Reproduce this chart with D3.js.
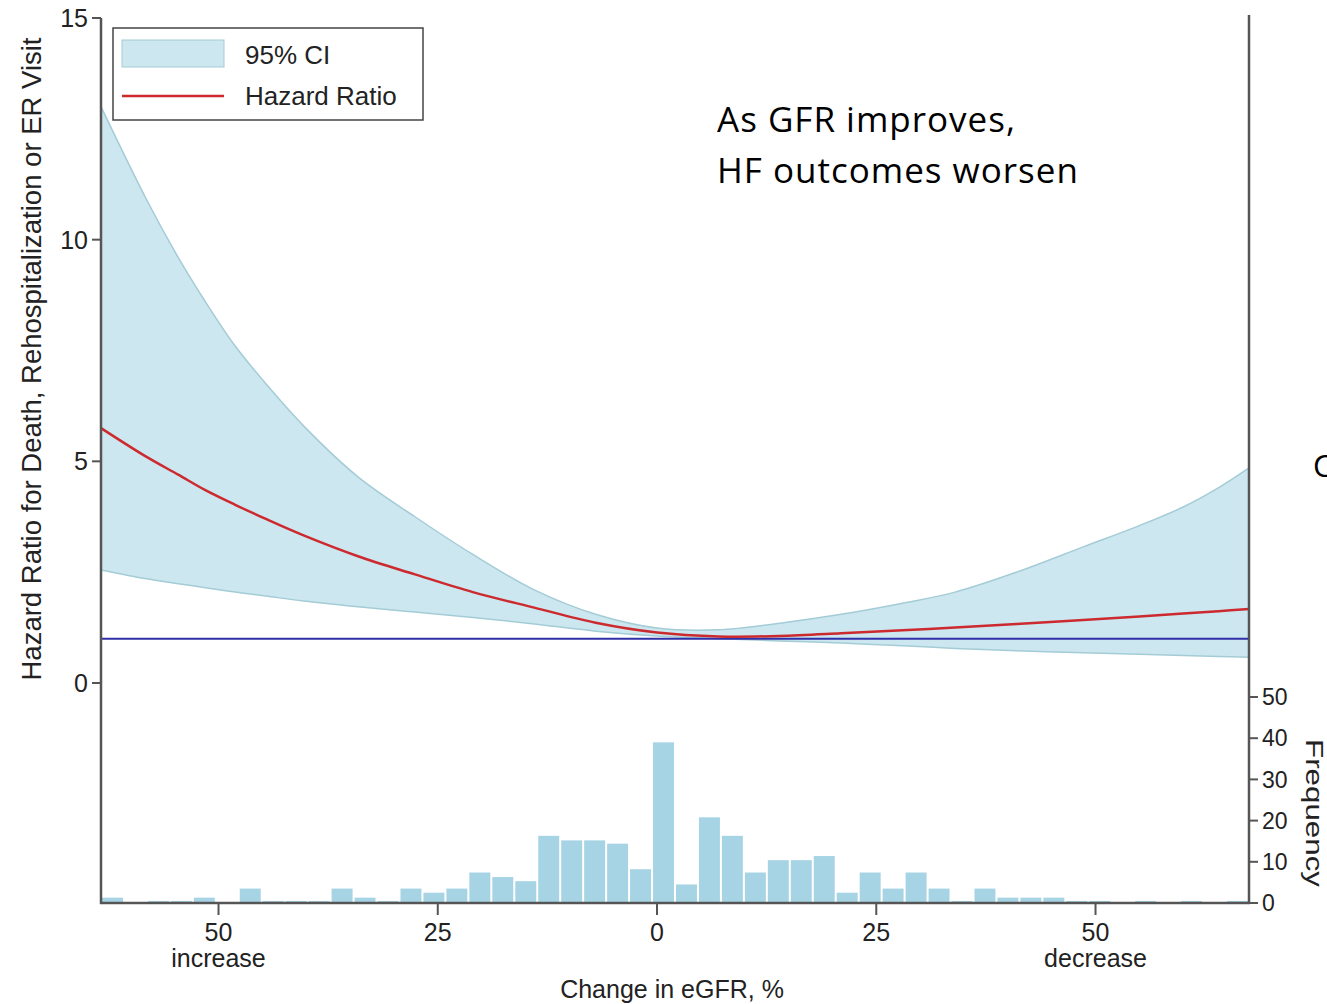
<!DOCTYPE html>
<html>
<head>
<meta charset="utf-8">
<script src="https://cdn.jsdelivr.net/npm/d3@7"></script>
<style>
  body { margin: 0; background: #fff; }
  text { font-family: "Liberation Sans", Arial, sans-serif; fill: #222; }
  text.note { font-family: "Open Sans", sans-serif; fill: #000; }
</style>
</head>
<body>
<svg id="chart" width="1327" height="1004"></svg>
<script>
// change in eGFR (%), negative = increase, positive = decrease
var pctChange = [-63.4, -58.2, -54.6, -51.5, -48.1, -44.6, -40.3, -34.1, -27.6, -21, -14, -7, 0, 7, 14, 21, 28, 34, 41, 48.6, 55, 60, 64, 67.5];
var hazardRatio = [5.75, 5.1, 4.7, 4.35, 4.02, 3.7, 3.33, 2.86, 2.45, 2.05, 1.7, 1.36, 1.14, 1.05, 1.06, 1.12, 1.19, 1.25, 1.33, 1.42, 1.5, 1.57, 1.62, 1.67];
var ciLower = [2.55, 2.35, 2.24, 2.15, 2.05, 1.96, 1.85, 1.72, 1.6, 1.48, 1.33, 1.17, 1.06, 1.0, 0.95, 0.9, 0.84, 0.78, 0.73, 0.68, 0.65, 0.62, 0.6, 0.58];
var ciUpper = [13.0, 10.9, 9.6, 8.6, 7.6, 6.75, 5.8, 4.65, 3.75, 2.9, 2.1, 1.55, 1.24, 1.2, 1.35, 1.55, 1.8, 2.05, 2.5, 3.07, 3.55, 3.97, 4.4, 4.85];

// histogram: 50 equal bins across the x range
var histStart = -63.4;
var histEnd = 67.5;
var frequency = [1.3, 0, 0.5, 0.5, 1.3, 0, 3.5, 0.5, 0.5, 0.5,
                 3.5, 1.3, 0.5, 3.5, 2.5, 3.5, 7.4, 6.3, 5.3, 16.3,
                 15.2, 15.2, 14.4, 8.2, 39, 4.5, 20.8, 16.3, 7.4, 10.4,
                 10.4, 11.4, 2.5, 7.4, 3.5, 7.4, 3.5, 0.5, 3.5, 1.3,
                 1.3, 1.3, 0.5, 0.5, 0, 0.5, 0, 0.5, 0, 0.5];

var xTicks = [-50, -25, 0, 25, 50];
var xTickLabels = ["50", "25", "0", "25", "50"];
var xSubLabels = ["increase", "", "", "", "decrease"];
var hrTicks = [0, 5, 10, 15];
var freqTicks = [0, 10, 20, 30, 40, 50];

var svg = d3.select("#chart");
svg.append("rect").attr("width", 1327).attr("height", 1004).attr("fill", "#fff");

var x = d3.scaleLinear().domain([histStart, histEnd]).range([101, 1249]);
var y = d3.scaleLinear().domain([0, 15]).range([683, 18]);
var yFreq = d3.scaleLinear().domain([0, 50]).range([903, 697]);

var rows = pctChange.map(function(p, i) {
	return { p: p, hr: hazardRatio[i], lo: ciLower[i], hi: ciUpper[i] };
});

// histogram bars
var binW = (histEnd - histStart) / frequency.length;
svg.append("g").selectAll("rect.bar").data(frequency).enter()
	.append("rect")
	.attr("class", "bar")
	.attr("x", function(d, i) { return x(histStart + i * binW) + 1; })
	.attr("width", function(d, i) { return x(histStart + (i + 1) * binW) - x(histStart + i * binW) - 2; })
	.attr("y", function(d) { return yFreq(d); })
	.attr("height", function(d) { return yFreq(0) - yFreq(d); })
	.attr("fill", "#a7d4e4");

// confidence band
var curve = d3.curveCatmullRom.alpha(0.5);
var area = d3.area()
	.x(function(d) { return x(d.p); })
	.y0(function(d) { return y(d.lo); })
	.y1(function(d) { return y(d.hi); })
	.curve(curve);
svg.append("path").datum(rows).attr("d", area).attr("fill", "#cce7ef");

["hi", "lo"].forEach(function(k) {
	svg.append("path").datum(rows)
		.attr("d", d3.line().x(function(d) { return x(d.p); }).y(function(d) { return y(d[k]); }).curve(curve))
		.attr("fill", "none").attr("stroke", "#a4ccd6").attr("stroke-width", 1.5);
});

// reference line at HR = 1
svg.append("line")
	.attr("x1", x(histStart)).attr("x2", x(histEnd))
	.attr("y1", y(1)).attr("y2", y(1))
	.attr("stroke", "#2f2fa8").attr("stroke-width", 2);

// hazard ratio
svg.append("path").datum(rows)
	.attr("d", d3.line().x(function(d) { return x(d.p); }).y(function(d) { return y(d.hr); }).curve(curve))
	.attr("fill", "none").attr("stroke", "#cc2a2f").attr("stroke-width", 2.5);

// axes
var axisColor = "#555";
svg.append("line").attr("x1", 101).attr("x2", 101).attr("y1", 18).attr("y2", 904)
	.attr("stroke", axisColor).attr("stroke-width", 2.5);
svg.append("line").attr("x1", 1249).attr("x2", 1249).attr("y1", 15).attr("y2", 904)
	.attr("stroke", axisColor).attr("stroke-width", 2.5);
svg.append("line").attr("x1", 100).attr("x2", 1250).attr("y1", 903).attr("y2", 903)
	.attr("stroke", axisColor).attr("stroke-width", 2.5);

var leftAxis = svg.append("g");
leftAxis.selectAll("line").data(hrTicks).enter().append("line")
	.attr("x1", 92).attr("x2", 101)
	.attr("y1", function(d) { return y(d); }).attr("y2", function(d) { return y(d); })
	.attr("stroke", axisColor).attr("stroke-width", 2);
leftAxis.selectAll("text").data(hrTicks).enter().append("text")
	.attr("x", 88).attr("y", function(d) { return y(d); })
	.attr("dy", "0.36em").attr("text-anchor", "end")
	.style("font-size", "25px")
	.text(function(d) { return d; });

var rightAxis = svg.append("g");
rightAxis.selectAll("line").data(freqTicks).enter().append("line")
	.attr("x1", 1249).attr("x2", 1258)
	.attr("y1", function(d) { return yFreq(d); }).attr("y2", function(d) { return yFreq(d); })
	.attr("stroke", axisColor).attr("stroke-width", 2);
rightAxis.selectAll("text").data(freqTicks).enter().append("text")
	.attr("x", 1262).attr("y", function(d) { return yFreq(d); })
	.attr("dy", "0.36em")
	.style("font-size", "23px")
	.text(function(d) { return d; });

var bottomAxis = svg.append("g");
bottomAxis.selectAll("line").data(xTicks).enter().append("line")
	.attr("x1", function(d) { return x(d); }).attr("x2", function(d) { return x(d); })
	.attr("y1", 903).attr("y2", 915)
	.attr("stroke", axisColor).attr("stroke-width", 2);
bottomAxis.selectAll("text.tick").data(xTicks).enter().append("text")
	.attr("class", "tick")
	.attr("x", function(d) { return x(d); }).attr("y", 941)
	.attr("text-anchor", "middle")
	.style("font-size", "25px")
	.text(function(d, i) { return xTickLabels[i]; });
bottomAxis.selectAll("text.sub").data(xTicks).enter().append("text")
	.attr("class", "sub")
	.attr("x", function(d) { return x(d); }).attr("y", 967)
	.attr("text-anchor", "middle")
	.style("font-size", "25px")
	.text(function(d, i) { return xSubLabels[i]; });

svg.append("text")
	.attr("x", 672).attr("y", 998)
	.attr("text-anchor", "middle")
	.style("font-size", "25px")
	.text("Change in eGFR, %");

svg.append("text")
	.attr("transform", "translate(41,359) rotate(-90)")
	.attr("text-anchor", "middle")
	.style("font-size", "27.5px")
	.text("Hazard Ratio for Death, Rehospitalization or ER Visit");

svg.append("text")
	.attr("transform", "translate(1306,813) rotate(90)")
	.attr("text-anchor", "middle")
	.attr("textLength", 148)
	.attr("lengthAdjust", "spacingAndGlyphs")
	.style("font-size", "23px")
	.text("Frequency");

// legend
var legend = svg.append("g");
legend.append("rect").attr("x", 113).attr("y", 28).attr("width", 310).attr("height", 92)
	.attr("fill", "#fff").attr("stroke", "#444").attr("stroke-width", 1.5);
legend.append("rect").attr("x", 122).attr("y", 40).attr("width", 102).attr("height", 27)
	.attr("fill", "#cce7ef").attr("stroke", "#a4ccd6").attr("stroke-width", 1);
legend.append("line").attr("x1", 122).attr("x2", 224).attr("y1", 96).attr("y2", 96)
	.attr("stroke", "#cc2a2f").attr("stroke-width", 2.5);
legend.append("text").attr("x", 245).attr("y", 64).style("font-size", "26px").text("95% CI");
legend.append("text").attr("x", 245).attr("y", 105).style("font-size", "26px").text("Hazard Ratio");

// annotation
svg.append("text").attr("class", "note").attr("x", 717).attr("y", 132)
	.style("font-size", "35px").style("letter-spacing", "1px").text("As GFR improves,");
svg.append("text").attr("class", "note").attr("x", 717).attr("y", 183)
	.style("font-size", "35px").style("letter-spacing", "1px").text("HF outcomes worsen");
svg.append("text").attr("class", "note").attr("x", 1313).attr("y", 477).style("font-size", "31px").text("C");
</script>
</body>
</html>
